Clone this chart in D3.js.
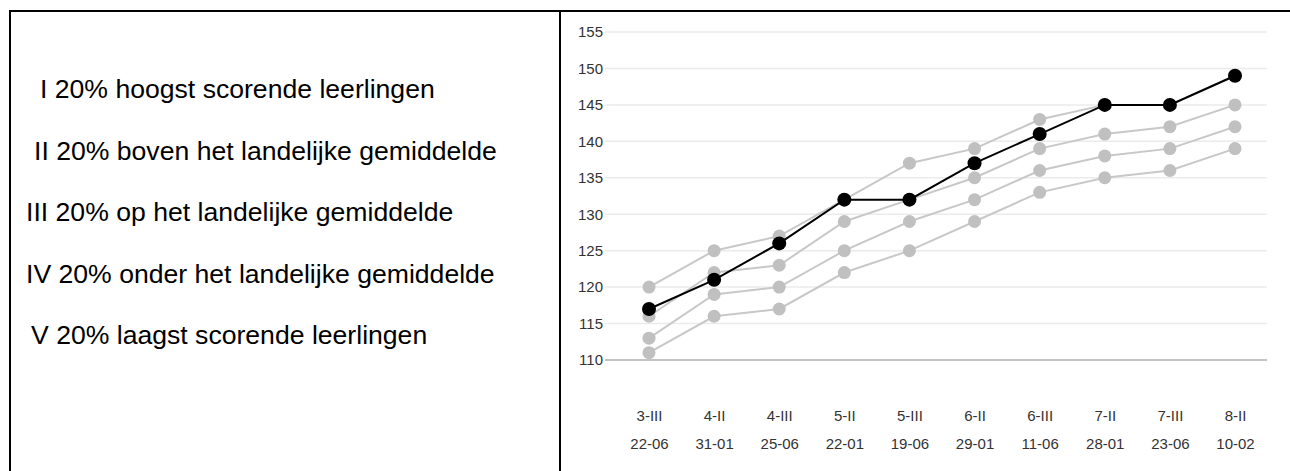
<!DOCTYPE html>
<html>
<head>
<meta charset="utf-8">
<script src="https://cdn.jsdelivr.net/npm/d3@7"></script>
<style>
    body { margin:0; background:#fff; }
    svg { display:block; font-family:"Liberation Sans", Arial, sans-serif; }
</style>
</head>
<body>
<svg id="chart" width="1290" height="471"></svg>
<script>

// legend texts (left panel)
var legendLines = [
    "I 20% hoogst scorende leerlingen",
    "II 20% boven het landelijke gemiddelde",
    "III 20% op het landelijke gemiddelde",
    "IV 20% onder het landelijke gemiddelde",
    "V 20% laagst scorende leerlingen"
];
var legendX = [40, 34, 26, 26, 31];

// x categories (two rows)
var groups = ["3-III","4-II","4-III","5-II","5-III","6-II","6-III","7-II","7-III","8-II"];
var dates  = ["22-06","31-01","25-06","22-01","19-06","29-01","11-06","28-01","23-06","10-02"];

var yTicks = [110,115,120,125,130,135,140,145,150,155];

// grey reference lines
var seriesA = [120,125,127,132,137,139,143,145,145,149];
var seriesB = [116,122,123,129,132,135,139,141,142,145];
var seriesC = [113,119,120,125,129,132,136,138,139,142];
var seriesD = [111,116,117,122,125,129,133,135,136,139];
// pupil line (black)
var pupil   = [117,121,126,132,132,137,141,145,145,149];

var svg = d3.select('#chart');

// frame lines
svg.append('line').attr('x1',10).attr('x2',1290).attr('y1',11).attr('y2',11)
    .style('stroke','#000').style('stroke-width',2);
svg.append('line').attr('x1',10).attr('x2',10).attr('y1',10).attr('y2',471)
    .style('stroke','#000').style('stroke-width',2);
svg.append('line').attr('x1',560).attr('x2',560).attr('y1',10).attr('y2',471)
    .style('stroke','#000').style('stroke-width',2);

// legend text
svg.append('g').selectAll('text')
    .data(legendLines)
    .enter().append('text')
    .attr('x',function(d,i){ return legendX[i]; })
    .attr('y',function(d,i){ return 98 + i*61.5; })
    .style('font-size','26.6px')
    .style('fill','#000')
    .text(function(d){ return d; });

// scales
var x = d3.scalePoint().domain(groups).range([649,1235]);
var y = d3.scaleLinear().domain([110,155]).range([360,32]);

// grid
var grid = svg.append('g');
grid.selectAll('line')
    .data(yTicks)
    .enter().append('line')
    .attr('x1',605).attr('x2',1267)
    .attr('y1',function(d){ return y(d); })
    .attr('y2',function(d){ return y(d); })
    .style('stroke',function(d){ return d == 110 ? '#c4c4c4' : '#ebebeb'; })
    .style('stroke-width',function(d){ return d == 110 ? 2 : 1.5; });

// y axis labels
var yAxis = d3.axisLeft(y).tickValues(yTicks).tickSize(0).tickPadding(0);
var gy = svg.append('g').attr('transform','translate(603,0)').call(yAxis);
gy.select('.domain').remove();
gy.selectAll('text')
    .style('font-size','15px')
    .style('font-family','"Liberation Sans", Arial, sans-serif')
    .style('fill','#333');

// x axis labels, two rows
var xAxis = d3.axisBottom(x).tickSize(0).tickPadding(0);
var gx = svg.append('g').attr('transform','translate(0,410)').call(xAxis);
gx.select('.domain').remove();
gx.selectAll('text')
    .style('font-size','15px')
    .style('font-family','"Liberation Sans", Arial, sans-serif')
    .style('fill','#333');

var gx2 = svg.append('g').attr('transform','translate(0,438)')
    .call(d3.axisBottom(x).tickSize(0).tickPadding(0).tickFormat(function(d,i){ return dates[i]; }));
gx2.select('.domain').remove();
gx2.selectAll('text')
    .style('font-size','15px')
    .style('font-family','"Liberation Sans", Arial, sans-serif')
    .style('fill','#333');

// lines + dots
var line = d3.line()
    .x(function(d,i){ return x(groups[i]); })
    .y(function(d){ return y(d); });

function drawSeries(values, color, dotColor, width, r) {
    var g = svg.append('g');
    g.append('path')
        .attr('d',line(values))
        .style('fill','none')
        .style('stroke',color)
        .style('stroke-width',width);
    g.selectAll('circle')
        .data(values)
        .enter().append('circle')
        .attr('cx',function(d,i){ return x(groups[i]); })
        .attr('cy',function(d){ return y(d); })
        .attr('r',r)
        .style('fill',dotColor);
}

drawSeries(seriesD,'#c8c8c8','#c0c0c0',2,6.5);
drawSeries(seriesC,'#c8c8c8','#c0c0c0',2,6.5);
drawSeries(seriesB,'#c8c8c8','#c0c0c0',2,6.5);
drawSeries(seriesA,'#c8c8c8','#c0c0c0',2,6.5);
drawSeries(pupil,'#000','#000',2,7);

</script>
</body>
</html>
